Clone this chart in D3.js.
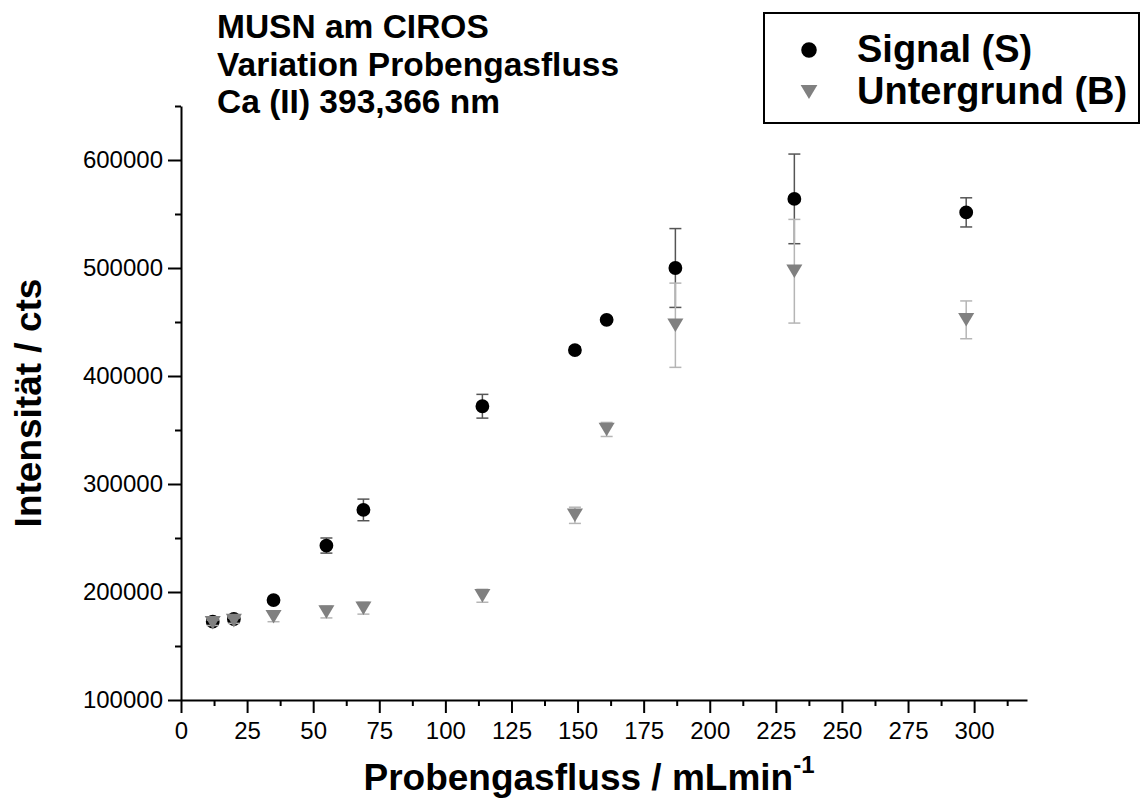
<!DOCTYPE html>
<html>
<head>
<meta charset="utf-8">
<script src="https://cdn.jsdelivr.net/npm/d3@7"></script>
<style>
  body { margin: 0; background: #fff; }
  svg { display: block; font-family: "Liberation Sans", Arial, sans-serif; }
</style>
</head>
<body>
<svg id="chart" width="1142" height="800"></svg>
<script>
// Probengasfluss in mL/min
var flow = [12, 20, 35, 55, 69, 114, 149, 161, 187, 232, 297]
// Signal (S)
var signal = [172500, 175000, 192500, 243000, 276000, 372000, 424000, 452000, 500000, 564000, 551500]
var signalErr = [2500, 2500, 1500, 7000, 10000, 11000, 3000, 2000, 36500, 41500, 13500]
// Untergrund (B)
var background = [171500, 173500, 177000, 181500, 185000, 196500, 271000, 350500, 447000, 497000, 452000]
var backgroundErr = [2500, 2500, 4500, 5500, 5500, 6000, 7500, 6500, 39000, 48000, 17500]

var xTicks = [0, 25, 50, 75, 100, 125, 150, 175, 200, 225, 250, 275, 300]
var yTicks = [100000, 200000, 300000, 400000, 500000, 600000]
var titleLines = ["MUSN am CIROS", "Variation Probengasfluss", "Ca (II) 393,366 nm"]
var legendLabels = ["Signal (S)", "Untergrund (B)"]

var svg = d3.select("#chart")

var x = d3.scaleLinear().domain([0, 320]).range([181, 1027])
var y = d3.scaleLinear().domain([100000, 650000]).range([700, 106])

// triangle pointing down, centred on its bounding box
var triDown = {
    draw: function(ctx, size) {
        var w = Math.sqrt(size) * 1.5
        var h = w * 0.84
        ctx.moveTo(-w / 2, -h / 2)
        ctx.lineTo(w / 2, -h / 2)
        ctx.lineTo(0, h / 2)
        ctx.closePath()
    }
}

var series = [
    {vals: signal, errs: signalErr, errColor: "#555", fill: "#000", symbol: d3.symbolCircle, size: 150, legendSize: 190},
    {vals: background, errs: backgroundErr, errColor: "#b5b5b5", fill: "#808080", symbol: triDown, size: 115, legendSize: 125}
]

// axes
svg.append("g").attr("transform", "translate(0," + y(100000) + ")")
    .call(d3.axisBottom(x).tickValues(xTicks).tickSize(13).tickPadding(9).tickSizeOuter(0))
svg.append("g").attr("transform", "translate(0," + y(100000) + ")")
    .call(d3.axisBottom(x).tickValues(d3.range(12.5, 320, 25)).tickSize(6).tickFormat("").tickSizeOuter(0))
    .select(".domain").remove()

svg.append("g").attr("transform", "translate(" + x(0) + ",0)")
    .call(d3.axisLeft(y).tickValues(yTicks).tickSize(13).tickPadding(5).tickFormat(d3.format("d")).tickSizeOuter(0))
svg.append("g").attr("transform", "translate(" + x(0) + ",0)")
    .call(d3.axisLeft(y).tickValues(d3.range(150000, 650001, 100000)).tickSize(6).tickFormat("").tickSizeOuter(0))
    .select(".domain").remove()

svg.selectAll(".domain, .tick line").attr("stroke", "#000").attr("stroke-width", 2)
svg.selectAll(".tick text").attr("font-size", 24).attr("fill", "#000")
    .attr("font-family", "'Liberation Sans', Arial, sans-serif")

// data
series.forEach(function(s) {
    var g = svg.append("g")
    var pts = flow.map(function(f, i) { return {x: f, v: s.vals[i], e: s.errs[i]} })
    var bars = g.selectAll("g.err").data(pts).enter().append("g")
        .attr("stroke", s.errColor).attr("stroke-width", 1.5)
    bars.append("line")
        .attr("x1", function(d) { return x(d.x) }).attr("x2", function(d) { return x(d.x) })
        .attr("y1", function(d) { return y(d.v + d.e) }).attr("y2", function(d) { return y(d.v - d.e) })
    bars.append("line")
        .attr("x1", function(d) { return x(d.x) - 6 }).attr("x2", function(d) { return x(d.x) + 6 })
        .attr("y1", function(d) { return y(d.v + d.e) }).attr("y2", function(d) { return y(d.v + d.e) })
    bars.append("line")
        .attr("x1", function(d) { return x(d.x) - 6 }).attr("x2", function(d) { return x(d.x) + 6 })
        .attr("y1", function(d) { return y(d.v - d.e) }).attr("y2", function(d) { return y(d.v - d.e) })
    g.selectAll("path.pt").data(pts).enter().append("path")
        .attr("d", d3.symbol(s.symbol, s.size))
        .attr("transform", function(d) { return "translate(" + x(d.x) + "," + y(d.v) + ")" })
        .attr("fill", s.fill)
})

// title block
svg.append("g").selectAll("text").data(titleLines).enter().append("text")
    .attr("x", 217).attr("y", function(d, i) { return 38 + i * 37.5 })
    .attr("font-size", 33.5).attr("font-weight", "bold").text(function(d) { return d })

// legend
svg.append("rect").attr("x", 764).attr("y", 13).attr("width", 375).attr("height", 110)
    .attr("fill", "none").attr("stroke", "#000").attr("stroke-width", 2)
legendLabels.forEach(function(l, i) {
    var s = series[i]
    var cy = 50 + i * 42
    svg.append("path").attr("d", d3.symbol(s.symbol, s.legendSize))
        .attr("transform", "translate(809," + cy + ")").attr("fill", s.fill)
    svg.append("text").attr("x", 857).attr("y", cy + 12)
        .attr("font-size", 38).attr("font-weight", "bold").text(l)
})

// axis titles
svg.append("text").attr("transform", "translate(41,403) rotate(-90)")
    .attr("text-anchor", "middle").attr("font-size", 37).attr("font-weight", "bold")
    .text("Intensität / cts")

var xt = svg.append("text").attr("x", 589).attr("y", 790)
    .attr("text-anchor", "middle").attr("font-size", 37).attr("font-weight", "bold")
xt.append("tspan").text("Probengasfluss / mLmin")
xt.append("tspan").attr("dy", -17).attr("font-size", 24).text("-1")
</script>
</body>
</html>
